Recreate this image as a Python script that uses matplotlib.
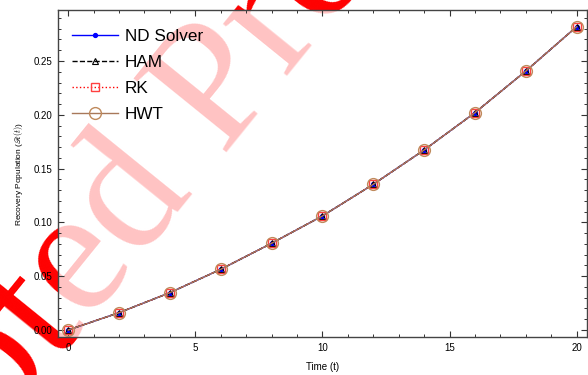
import numpy as np
import matplotlib
matplotlib.use('Agg')
import matplotlib.pyplot as plt
from matplotlib.ticker import MultipleLocator

plt.rcParams['font.family'] = ['Liberation Sans', 'DejaVu Sans']
plt.rcParams['mathtext.fontset'] = 'cm'

# datos
t = [0, 2, 4, 6, 8, 10, 12, 14, 16, 18, 20]
nd_solver = [0.0, 0.0161, 0.0347, 0.0564, 0.0806, 0.1060, 0.1354, 0.1673, 0.2020, 0.2407, 0.2819]
ham = [0.0, 0.0161, 0.0347, 0.0564, 0.0806, 0.1060, 0.1354, 0.1673, 0.2020, 0.2407, 0.2819]
rk = [0.0, 0.0161, 0.0347, 0.0564, 0.0806, 0.1060, 0.1354, 0.1673, 0.2020, 0.2407, 0.2819]
hwt = [0.0, 0.0161, 0.0347, 0.0564, 0.0806, 0.1060, 0.1354, 0.1673, 0.2020, 0.2407, 0.2819]

fig = plt.figure(figsize=(5.88, 3.75), dpi=100)
ax = fig.add_axes([0.0986, 0.1013, 0.8994, 0.872])
ax.set_facecolor((1, 1, 1, 0.77))

# marca de agua
fig.text(0.146, 0.32, 'Accepted Proof', rotation=51, color='red',
         fontsize=130, family='Liberation Serif', ha='center', va='center',
         zorder=-1)

ax.plot(t, nd_solver, '-', color='blue', lw=1.0, marker='o', ms=2.8,
        mfc='blue', mec='blue', label='ND Solver')
ax.plot(t, ham, '--', color='black', lw=1.0, marker='^', ms=5,
        mfc='none', mec='black', mew=0.8, label='HAM')
ax.plot(t, rk, ':', color='red', lw=1.0, marker='s', ms=5.5,
        mfc='none', mec='#ff4040', mew=1.0, label='RK')
ax.plot(t, hwt, '-', color='#a8785a', lw=1.0, marker='o', ms=8.5,
        mfc='none', mec='#bf8a5c', mew=1.0, label='HWT')

ax.legend(loc='upper left', bbox_to_anchor=(0.0132, 0.963), borderaxespad=0,
          frameon=False, fontsize=12.3, handlelength=2.7, handletextpad=0.4,
          labelspacing=0.65, numpoints=1)

ax.set_xlim(-0.4, 20.4)
ax.set_ylim(-0.0065, 0.2974)
ax.xaxis.set_major_locator(MultipleLocator(5))
ax.xaxis.set_minor_locator(MultipleLocator(1))
ax.yaxis.set_major_locator(MultipleLocator(0.05))
ax.yaxis.set_minor_locator(MultipleLocator(0.01))
ax.yaxis.set_major_formatter(matplotlib.ticker.FormatStrFormatter('%.2f'))
ax.tick_params(which='both', direction='in', top=True, right=True,
               labelsize=7, color='#333333', pad=4)
ax.tick_params(which='major', length=4.5, width=0.8)
ax.tick_params(which='minor', length=2.5, width=0.7)
for s in ax.spines.values():
    s.set_color('#444444')
    s.set_linewidth(1.0)

ax.set_xlabel('Time (t)', fontsize=7, labelpad=7)
ax.set_ylabel(r'Recovery Population ($\mathscr{R}(t)$)', fontsize=6, labelpad=6)

fig.savefig('out.png', dpi=100)
